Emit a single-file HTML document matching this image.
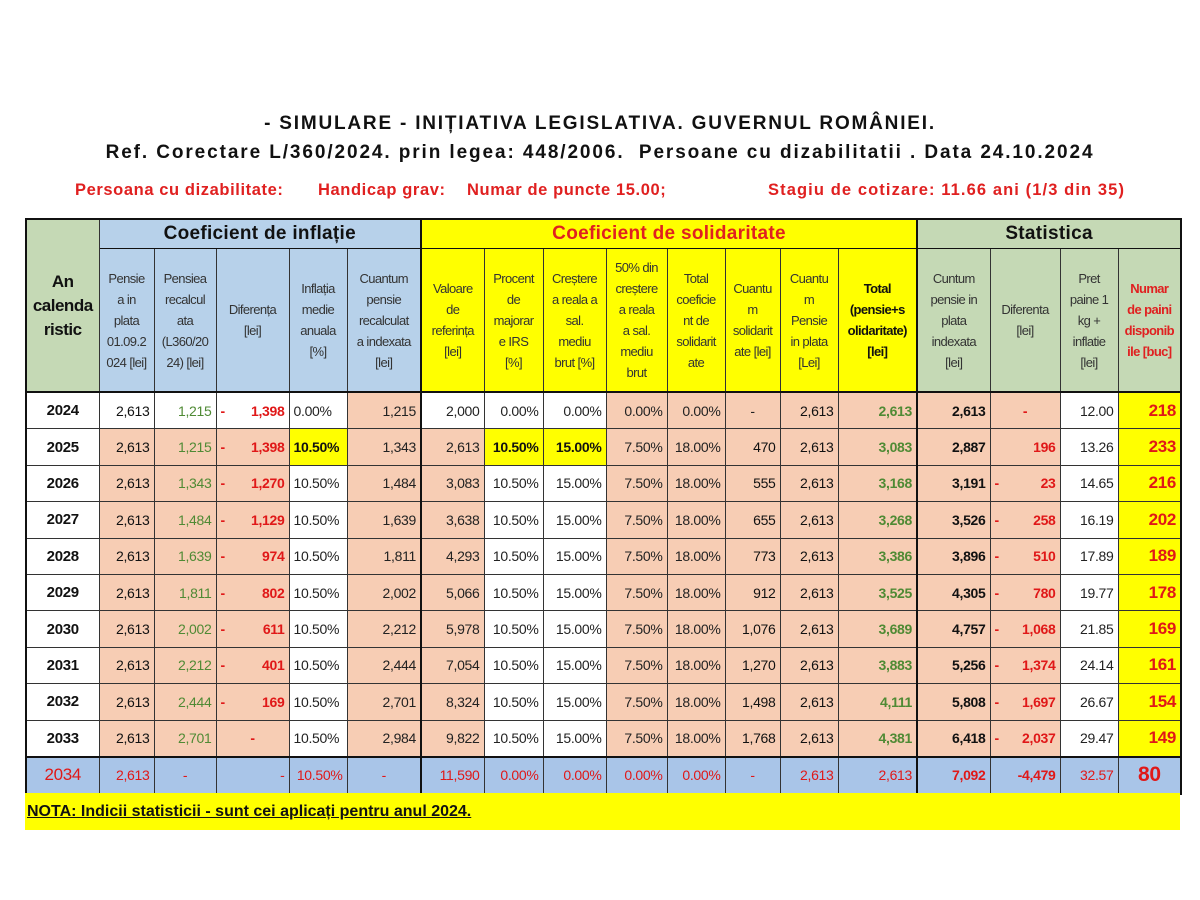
<!DOCTYPE html>
<html><head><meta charset="utf-8">
<style>
body{margin:0;width:1200px;height:900px;background:#fff;position:relative;font-family:"Liberation Sans",sans-serif;overflow:hidden}
.t{position:absolute;left:0;width:1200px;text-align:center;font-weight:bold;color:#111}
.r{position:absolute;top:181px;font-weight:bold;color:#e02020;font-size:16.5px;white-space:nowrap;letter-spacing:0.6px}
table{position:absolute;left:25px;top:218px;border-collapse:collapse;table-layout:fixed;width:1155px;border:2.5px solid #111}
td{border:1px solid #333;padding:0 4px;font-size:14px;text-align:right;overflow:hidden;white-space:nowrap;color:#222;letter-spacing:-0.3px}
tr.g td{height:28px;font-weight:bold;font-size:19px;text-align:center;border-bottom:1.5px solid #111;color:#111;letter-spacing:0.3px}
tr.h td{height:142px;text-align:center;white-space:nowrap;font-size:13px;line-height:21px;padding:0;color:#333!important;border-bottom:2px solid #111;letter-spacing:-0.6px}
tr.d td{height:35.4px}
.G{background:#c5d9b5}.B{background:#b7d1ea}.Y{background:#ffff00}.P{background:#f7cdb4}.W{background:#fff}
.yr{text-align:center!important;font-weight:bold;font-size:15px!important;color:#111!important}
.gr{color:#4f8a34}.rd{color:#e01818;font-weight:bold}
.bk{font-weight:bold;color:#111}
.md{color:#111}
.df{display:flex;justify-content:space-between}
.sep{border-left:2.5px solid #111!important}
tr.last td{background:#a9c5e8;color:#e01818;height:35px;border-top:2.5px solid #111}
.nota{position:absolute;left:25px;top:793px;width:1155px;height:37px;background:#ffff00}
.nota span{position:absolute;left:2px;top:10px;font-weight:bold;font-size:16px;text-decoration:underline;color:#111}
</style></head><body>
<div class="t" style="top:113px;font-size:19px;letter-spacing:1.8px">- SIMULARE - INIȚIATIVA LEGISLATIVA. GUVERNUL ROMÂNIEI.</div>
<div class="t" style="top:142px;font-size:19px;letter-spacing:1.9px">Ref. Corectare L/360/2024. prin legea: 448/2006.&nbsp; Persoane cu dizabilitatii . Data 24.10.2024</div>
<div class="r" style="left:75px">Persoana cu dizabilitate:</div>
<div class="r" style="left:318px">Handicap grav:</div>
<div class="r" style="left:467px">Numar de puncte 15.00;</div>
<div class="r" style="left:768px;letter-spacing:1.1px">Stagiu de cotizare: 11.66 ani (1/3 din 35)</div>
<table>
<colgroup><col style="width:73px"><col style="width:55px"><col style="width:62px"><col style="width:73px"><col style="width:58px"><col style="width:74px"><col style="width:63px"><col style="width:59px"><col style="width:63px"><col style="width:61px"><col style="width:58px"><col style="width:55px"><col style="width:58px"><col style="width:79px"><col style="width:73px"><col style="width:70px"><col style="width:58px"><col style="width:63px"></colgroup>
<tr class="g"><td class="G" rowspan="2" style="font-size:17px;line-height:24px;vertical-align:middle;border-bottom:2px solid #111;letter-spacing:-0.5px">An<br>calenda<br>ristic</td><td class="B" colspan="5">Coeficient de inflație</td><td class="Y sep" colspan="8" style="color:#e02020">Coeficient de solidaritate</td><td class="G sep" colspan="4">Statistica</td></tr>
<tr class="h">
<td class="B">Pensie<br>a in<br>plata<br>01.09.2<br>024 [lei]</td><td class="B">Pensiea<br>recalcul<br>ata<br>(L360/20<br>24) [lei]</td><td class="B">Diferența<br>[lei]</td><td class="B">Inflația<br>medie<br>anuala<br>[%]</td><td class="B">Cuantum<br>pensie<br>recalculat<br>a indexata<br>[lei]</td>
<td class="Y sep">Valoare<br>de<br>referința<br>[lei]</td><td class="Y">Procent<br>de<br>majorar<br>e IRS<br>[%]</td><td class="Y">Creștere<br>a reala a<br>sal.<br>mediu<br>brut [%]</td><td class="Y">50% din<br>creștere<br>a reala<br>a sal.<br>mediu<br>brut</td><td class="Y">Total<br>coeficie<br>nt de<br>solidarit<br>ate</td><td class="Y">Cuantu<br>m<br>solidarit<br>ate [lei]</td><td class="Y">Cuantu<br>m<br>Pensie<br>in plata<br>[Lei]</td><td class="Y" style="font-weight:bold;color:#111!important">Total<br>(pensie+s<br>olidaritate)<br>[lei]</td>
<td class="G sep">Cuntum<br>pensie in<br>plata<br>indexata<br>[lei]</td><td class="G">Diferenta<br>[lei]</td><td class="G">Pret<br>paine 1<br>kg +<br>inflatie<br>[lei]</td><td class="G" style="color:#e02020!important;font-weight:bold">Numar<br>de paini<br>disponib<br>ile [buc]</td></tr>

<tr class="d"><td class="W yr">2024</td><td class="W md">2,613</td><td class="W gr">1,215</td><td class="W rd"><div class="df"><span>-</span><span>1,398</span></div></td><td class="W" style="text-align:left">0.00%</td><td class="P">1,215</td><td class="W sep">2,000</td><td class="W">0.00%</td><td class="W">0.00%</td><td class="P">0.00%</td><td class="P">0.00%</td><td class="P" style="text-align:center">-</td><td class="P md">2,613</td><td class="P bk" style="color:#4f8a34">2,613</td><td class="P bk sep">2,613</td><td class="P rd" style="text-align:center">-</td><td class="W">12.00</td><td class="Y rd" style="font-size:17px">218</td></tr>
<tr class="d"><td class="W yr">2025</td><td class="P md">2,613</td><td class="P gr">1,215</td><td class="P rd"><div class="df"><span>-</span><span>1,398</span></div></td><td class="Y bk" style="text-align:left">10.50%</td><td class="P">1,343</td><td class="P sep">2,613</td><td class="Y bk">10.50%</td><td class="Y bk">15.00%</td><td class="P">7.50%</td><td class="P">18.00%</td><td class="P md">470</td><td class="P md">2,613</td><td class="P bk" style="color:#4f8a34">3,083</td><td class="P bk sep">2,887</td><td class="P rd">196</td><td class="W">13.26</td><td class="Y rd" style="font-size:17px">233</td></tr>
<tr class="d"><td class="W yr">2026</td><td class="P md">2,613</td><td class="P gr">1,343</td><td class="P rd"><div class="df"><span>-</span><span>1,270</span></div></td><td class="W" style="text-align:left">10.50%</td><td class="P">1,484</td><td class="P sep">3,083</td><td class="W">10.50%</td><td class="W">15.00%</td><td class="P">7.50%</td><td class="P">18.00%</td><td class="P md">555</td><td class="P md">2,613</td><td class="P bk" style="color:#4f8a34">3,168</td><td class="P bk sep">3,191</td><td class="P rd"><div class="df"><span>-</span><span>23</span></div></td><td class="W">14.65</td><td class="Y rd" style="font-size:17px">216</td></tr>
<tr class="d"><td class="W yr">2027</td><td class="P md">2,613</td><td class="P gr">1,484</td><td class="P rd"><div class="df"><span>-</span><span>1,129</span></div></td><td class="W" style="text-align:left">10.50%</td><td class="P">1,639</td><td class="P sep">3,638</td><td class="W">10.50%</td><td class="W">15.00%</td><td class="P">7.50%</td><td class="P">18.00%</td><td class="P md">655</td><td class="P md">2,613</td><td class="P bk" style="color:#4f8a34">3,268</td><td class="P bk sep">3,526</td><td class="P rd"><div class="df"><span>-</span><span>258</span></div></td><td class="W">16.19</td><td class="Y rd" style="font-size:17px">202</td></tr>
<tr class="d"><td class="W yr">2028</td><td class="P md">2,613</td><td class="P gr">1,639</td><td class="P rd"><div class="df"><span>-</span><span>974</span></div></td><td class="W" style="text-align:left">10.50%</td><td class="P">1,811</td><td class="P sep">4,293</td><td class="W">10.50%</td><td class="W">15.00%</td><td class="P">7.50%</td><td class="P">18.00%</td><td class="P md">773</td><td class="P md">2,613</td><td class="P bk" style="color:#4f8a34">3,386</td><td class="P bk sep">3,896</td><td class="P rd"><div class="df"><span>-</span><span>510</span></div></td><td class="W">17.89</td><td class="Y rd" style="font-size:17px">189</td></tr>
<tr class="d"><td class="W yr">2029</td><td class="P md">2,613</td><td class="P gr">1,811</td><td class="P rd"><div class="df"><span>-</span><span>802</span></div></td><td class="W" style="text-align:left">10.50%</td><td class="P">2,002</td><td class="P sep">5,066</td><td class="W">10.50%</td><td class="W">15.00%</td><td class="P">7.50%</td><td class="P">18.00%</td><td class="P md">912</td><td class="P md">2,613</td><td class="P bk" style="color:#4f8a34">3,525</td><td class="P bk sep">4,305</td><td class="P rd"><div class="df"><span>-</span><span>780</span></div></td><td class="W">19.77</td><td class="Y rd" style="font-size:17px">178</td></tr>
<tr class="d"><td class="W yr">2030</td><td class="P md">2,613</td><td class="P gr">2,002</td><td class="P rd"><div class="df"><span>-</span><span>611</span></div></td><td class="W" style="text-align:left">10.50%</td><td class="P">2,212</td><td class="P sep">5,978</td><td class="W">10.50%</td><td class="W">15.00%</td><td class="P">7.50%</td><td class="P">18.00%</td><td class="P md">1,076</td><td class="P md">2,613</td><td class="P bk" style="color:#4f8a34">3,689</td><td class="P bk sep">4,757</td><td class="P rd"><div class="df"><span>-</span><span>1,068</span></div></td><td class="W">21.85</td><td class="Y rd" style="font-size:17px">169</td></tr>
<tr class="d"><td class="W yr">2031</td><td class="P md">2,613</td><td class="P gr">2,212</td><td class="P rd"><div class="df"><span>-</span><span>401</span></div></td><td class="W" style="text-align:left">10.50%</td><td class="P">2,444</td><td class="P sep">7,054</td><td class="W">10.50%</td><td class="W">15.00%</td><td class="P">7.50%</td><td class="P">18.00%</td><td class="P md">1,270</td><td class="P md">2,613</td><td class="P bk" style="color:#4f8a34">3,883</td><td class="P bk sep">5,256</td><td class="P rd"><div class="df"><span>-</span><span>1,374</span></div></td><td class="W">24.14</td><td class="Y rd" style="font-size:17px">161</td></tr>
<tr class="d"><td class="W yr">2032</td><td class="P md">2,613</td><td class="P gr">2,444</td><td class="P rd"><div class="df"><span>-</span><span>169</span></div></td><td class="W" style="text-align:left">10.50%</td><td class="P">2,701</td><td class="P sep">8,324</td><td class="W">10.50%</td><td class="W">15.00%</td><td class="P">7.50%</td><td class="P">18.00%</td><td class="P md">1,498</td><td class="P md">2,613</td><td class="P bk" style="color:#4f8a34">4,111</td><td class="P bk sep">5,808</td><td class="P rd"><div class="df"><span>-</span><span>1,697</span></div></td><td class="W">26.67</td><td class="Y rd" style="font-size:17px">154</td></tr>
<tr class="d"><td class="W yr">2033</td><td class="P md">2,613</td><td class="P gr">2,701</td><td class="P rd" style="text-align:center">-</td><td class="W" style="text-align:left">10.50%</td><td class="P">2,984</td><td class="P sep">9,822</td><td class="W">10.50%</td><td class="W">15.00%</td><td class="P">7.50%</td><td class="P">18.00%</td><td class="P md">1,768</td><td class="P md">2,613</td><td class="P bk" style="color:#4f8a34">4,381</td><td class="P bk sep">6,418</td><td class="P rd"><div class="df"><span>-</span><span>2,037</span></div></td><td class="W">29.47</td><td class="Y rd" style="font-size:17px">149</td></tr>
<tr class="d last"><td class="yr" style="color:#e01818!important;font-weight:normal;font-size:17px!important">2034</td><td>2,613</td><td style="text-align:center">-</td><td style="text-align:right">-</td><td>10.50%</td><td style="text-align:center">-</td><td class="sep">11,590</td><td>0.00%</td><td>0.00%</td><td>0.00%</td><td>0.00%</td><td style="text-align:center">-</td><td>2,613</td><td>2,613</td><td class="sep rd">7,092</td><td class="rd">-4,479</td><td>32.57</td><td class="rd" style="font-size:21px;text-align:center">80</td></tr>
</table>
<div class="nota"><span>NOTA: Indicii statisticii - sunt cei aplicați pentru anul 2024.</span></div>
</body></html>
